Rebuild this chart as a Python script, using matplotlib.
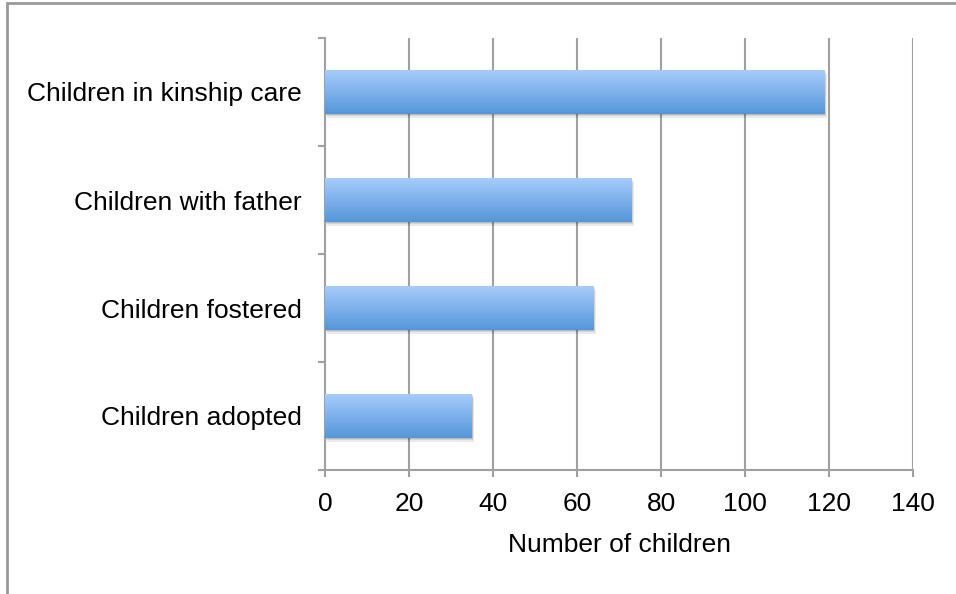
"""Horizontal bar chart of children by care arrangement."""
import matplotlib.pyplot as plt
import numpy as np
from matplotlib.colors import LinearSegmentedColormap
from matplotlib.patches import Rectangle

categories = ["Children adopted", "Children fostered", "Children with father", "Children in kinship care"]
counts = [35, 64, 73, 119]
xticks = [0, 20, 40, 60, 80, 100, 120, 140]

plt.rcParams["font.family"] = ["Liberation Sans", "DejaVu Sans"]
grid_col = "#a0a0a0"

fig = plt.figure(figsize=(9.56, 5.94), dpi=100)
ax = fig.add_axes([325 / 956, 1 - 470 / 594, (913 - 325) / 956, (470 - 38) / 594])

ypos = np.arange(len(categories))
bar_h = 0.41

# soft drop shadow under each bar
for dx, dy, a in [(0.5, -0.035, 0.08), (0.3, -0.02, 0.10), (0.15, -0.01, 0.10)]:
    ax.barh(ypos + dy, counts, height=bar_h, left=dx, color="#000000", alpha=a, zorder=2, lw=0)

bars = ax.barh(ypos, counts, height=bar_h, color="none", lw=0, zorder=3)

# vertical gradient fill clipped to each bar
cmap = LinearSegmentedColormap.from_list("bluegrad", ["#5496da", "#a9cdfc"])
grad = np.linspace(0, 1, 256).reshape(-1, 1)
for b in bars:
    x0, y0 = b.get_x(), b.get_y()
    im = ax.imshow(grad, cmap=cmap, origin="lower", aspect="auto",
                   extent=[x0, x0 + b.get_width(), y0, y0 + b.get_height()], zorder=3)
    im.set_clip_path(b)

ax.set_xlim(0, 140)
ax.set_ylim(-0.5, 3.5)
ax.set_xticks(xticks)
ax.set_xticklabels([str(t) for t in xticks])
ax.set_yticks(ypos)
ax.set_yticklabels(categories)
ax.set_yticks(np.arange(-0.5, 4, 1), minor=True)

ax.tick_params(axis="y", which="major", length=0, pad=17, labelsize=19)
ax.tick_params(axis="y", which="minor", length=5, width=1.5, color=grid_col, direction="out")
ax.tick_params(axis="x", length=5, width=1.5, color=grid_col, pad=11, labelsize=19)

ax.grid(axis="x", color=grid_col, lw=1.5, zorder=1)
ax.set_axisbelow(True)
for s in ["top", "right"]:
    ax.spines[s].set_visible(False)
for s in ["left", "bottom"]:
    ax.spines[s].set_color(grid_col)
    ax.spines[s].set_linewidth(1.5)

ax.set_xlabel("Number of children", fontsize=19, labelpad=12)

# outer frame, partly cropped at the right and bottom
fig.add_artist(Rectangle((6.5 / 956, -0.1), 2, (594 - 2.5) / 594 + 0.1,
                         transform=fig.transFigure, fill=False, ec="#999999", lw=2))

fig.savefig("out.png", dpi=100)
